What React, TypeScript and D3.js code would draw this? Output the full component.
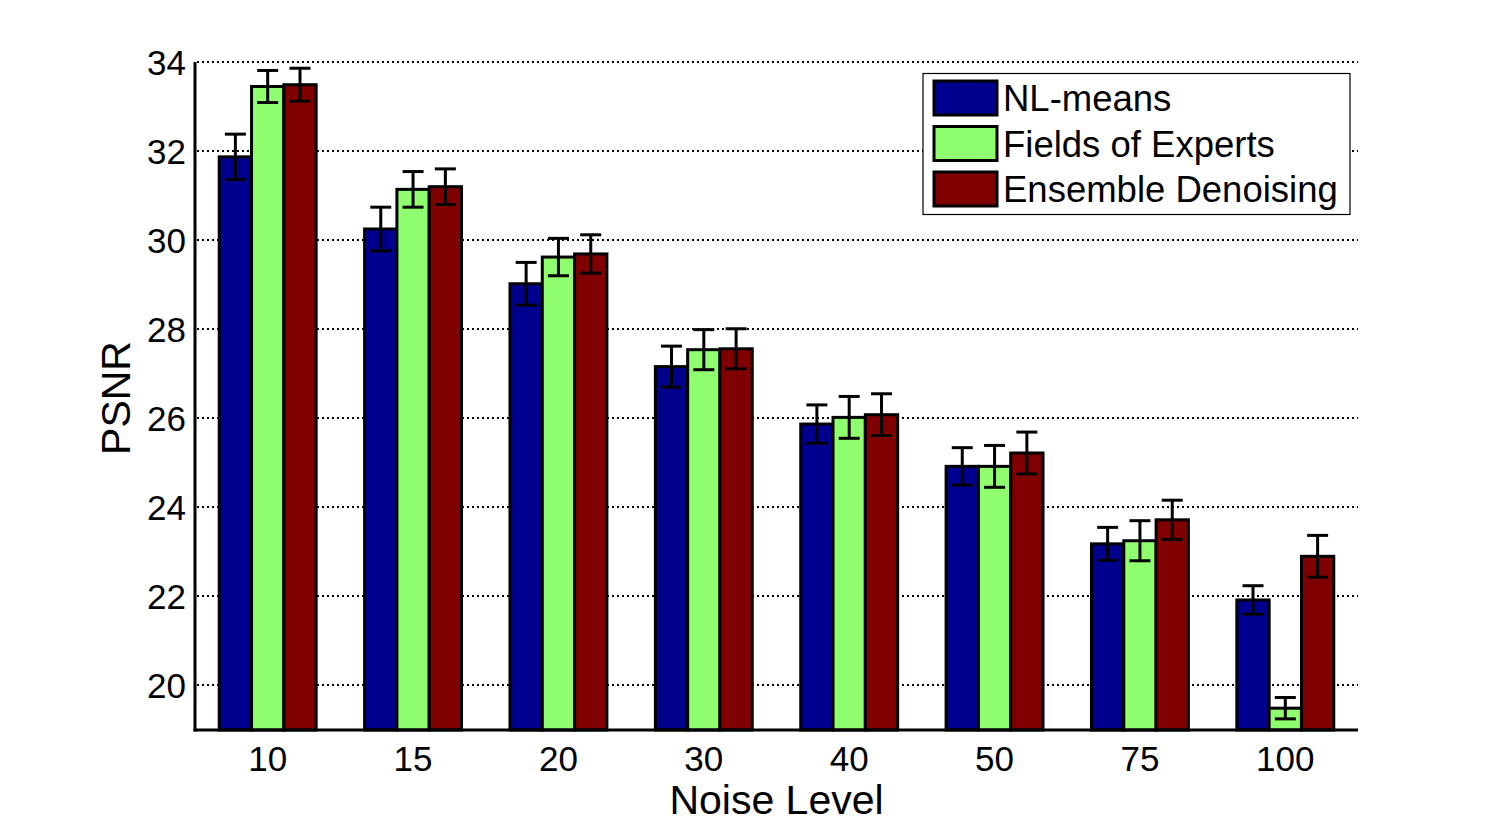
import React from "react";
import * as d3 from "d3";

// PSNR per noise level
const levels = ["10", "15", "20", "30", "40", "50", "75", "100"];
const seriesNames = ["NL-means", "Fields of Experts", "Ensemble Denoising"];
const nlMeans = [31.87, 30.25, 29.02, 27.16, 25.87, 24.92, 23.18, 21.92];
const nlMeansErr = [0.51, 0.49, 0.48, 0.46, 0.43, 0.42, 0.37, 0.32];
const foe = [33.45, 31.14, 29.62, 27.54, 26.02, 24.92, 23.25, 19.49];
const foeErr = [0.36, 0.4, 0.42, 0.45, 0.47, 0.47, 0.45, 0.24];
const ensemble = [33.49, 31.2, 29.69, 27.56, 26.08, 25.22, 23.72, 22.9];
const ensembleErr = [0.37, 0.4, 0.43, 0.45, 0.47, 0.47, 0.44, 0.47];
const yTicks = [20, 22, 24, 26, 28, 30, 32, 34];
const colors = ["#00008F", "#8FFF70", "#800000"];

const W = 1500;
const H = 824;
const margin = { left: 195, right: 142, top: 62, bottom: 94 };
const font = "'Liberation Sans', Arial, Helvetica, sans-serif";

export default function App() {
  const values = [nlMeans, foe, ensemble];
  const errs = [nlMeansErr, foeErr, ensembleErr];

  const x0 = d3
    .scaleBand<string>()
    .domain(levels)
    .range([margin.left, W - margin.right])
    .paddingInner(1 / 3)
    .paddingOuter(1 / 6);

  const x1 = d3
    .scaleBand<number>()
    .domain([0, 1, 2])
    .range([0, x0.bandwidth()]);

  const y = d3
    .scaleLinear()
    .domain([19, 34])
    .range([H - margin.bottom, margin.top]);

  const capW = 21;
  const axisY = y(19);

  return (
    <svg
      width={W}
      height={H}
      style={{ position: "absolute", left: 0, top: 0, display: "block", background: "#fff" }}
      fontFamily={font}
    >
      {/* grid */}
      {yTicks.map((t) => (
        <line
          key={"g" + t}
          x1={margin.left + 2}
          x2={W - margin.right}
          y1={Math.round(y(t))}
          y2={Math.round(y(t))}
          stroke="#000"
          strokeWidth={2}
          strokeDasharray="2,3"
          shapeRendering="crispEdges"
        />
      ))}

      {/* bars */}
      {levels.map((lv, i) => (
        <g key={lv} transform={`translate(${x0(lv)},0)`}>
          {values.map((s, k) => (
            <rect
              key={k}
              x={x1(k)}
              y={y(s[i])}
              width={x1.bandwidth()}
              height={axisY - y(s[i])}
              fill={colors[k]}
              stroke="#000"
              strokeWidth={3}
            />
          ))}
          {values.map((s, k) => {
            const cx = (x1(k) as number) + x1.bandwidth() / 2;
            const hi = y(s[i] + errs[k][i]);
            const lo = y(s[i] - errs[k][i]);
            return (
              <g key={"e" + k} stroke="#000" strokeWidth={3}>
                <line x1={cx} x2={cx} y1={hi} y2={lo} />
                <line x1={cx - capW / 2} x2={cx + capW / 2} y1={hi} y2={hi} />
                <line x1={cx - capW / 2} x2={cx + capW / 2} y1={lo} y2={lo} />
              </g>
            );
          })}
        </g>
      ))}

      {/* axes */}
      <line x1={margin.left} x2={margin.left} y1={margin.top} y2={axisY + 1.5} stroke="#000" strokeWidth={3} />
      <line x1={margin.left - 1.5} x2={W - margin.right} y1={axisY} y2={axisY} stroke="#000" strokeWidth={3} />

      {yTicks.map((t) => (
        <text key={"t" + t} x={186} y={y(t) + 12.5} fontSize={35} textAnchor="end">
          {t}
        </text>
      ))}
      {levels.map((lv) => (
        <text
          key={"x" + lv}
          x={(x0(lv) as number) + x0.bandwidth() / 2}
          y={771}
          fontSize={35}
          textAnchor="middle"
        >
          {lv}
        </text>
      ))}

      <text x={(margin.left + W - margin.right) / 2} y={814} fontSize={41} textAnchor="middle">
        Noise Level
      </text>
      <text transform="translate(130,398) rotate(-90)" fontSize={41} textAnchor="middle">
        PSNR
      </text>

      {/* legend */}
      <g>
        <rect x={923} y={73.5} width={427} height={141} fill="#fff" stroke="#000" strokeWidth={1.2} />
        {seriesNames.map((n, k) => (
          <g key={n} transform={`translate(0,${k * 45.5})`}>
            <rect x={934} y={81} width={63} height={34} fill={colors[k]} stroke="#000" strokeWidth={3} />
            <text x={1003} y={111} fontSize={36.5}>
              {n}
            </text>
          </g>
        ))}
      </g>
    </svg>
  );
}
